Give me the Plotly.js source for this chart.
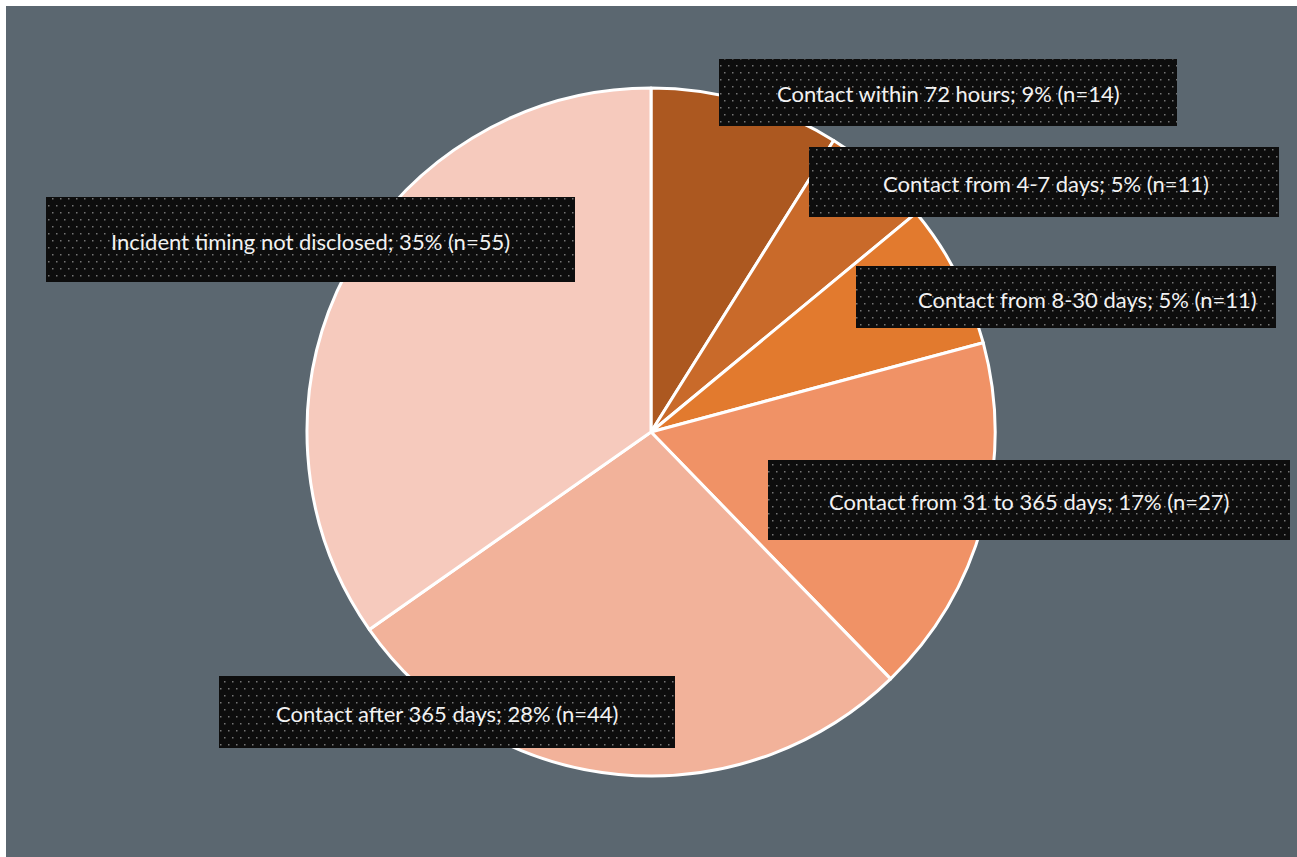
<!DOCTYPE html>
<html>
<head>
<meta charset="utf-8">
<script src="https://cdn.plot.ly/plotly-3.0.1.min.js"></script>
<style>
  html, body { margin: 0; padding: 0; background: #ffffff; overflow: hidden; }
  #chart { position: absolute; left: 6px; top: 6px; width: 1291px; height: 851px; }
</style>
</head>
<body>
<div id="chart"></div>
<script>
// Data
const categories = [
  "Contact within 72 hours",
  "Contact from 4-7 days",
  "Contact from 8-30 days",
  "Contact from 31 to 365 days",
  "Contact after 365 days",
  "Incident timing not disclosed"
];
const counts = [14, 11, 11, 27, 44, 55];
const pctLabels = ["9%", "5%", "5%", "17%", "28%", "35%"];
// slice shares (%)
const sliceShares = [8.9, 5.1, 6.8, 16.9, 27.5, 34.7];
const sliceColors = ["#AC5820", "#C96A2A", "#E27A2E", "#F09266", "#F2B29A", "#F6CABD"];

const W = 1291, H = 851, OFF = 6;
const px = x => (x - OFF) / W;
const py = y => 1 - (y - OFF) / H;

// label boxes (page pixels): [x0, y0, x1, y1, textCx, textCy]
const boxes = [
  [719, 59, 1177, 126, 948, 93],
  [809, 147, 1279, 217, 1046, 183],
  [856, 266, 1276, 328, 1087, 299],
  [768, 460, 1290, 540, 1029, 501],
  [219, 676, 675, 748, 447, 713],
  [46, 197, 575, 282, 310, 241]
];

const cx = 651, cy = 432, r = 344;

const trace = {
  type: "pie",
  labels: categories,
  values: sliceShares,
  customdata: counts,
  sort: false,
  direction: "clockwise",
  rotation: 0,
  textinfo: "none",
  hoverinfo: "label+percent",
  marker: { colors: sliceColors, line: { color: "#ffffff", width: 3 } },
  domain: { x: [px(cx - r), px(cx + r)], y: [py(cy + r), py(cy - r)] },
  showlegend: false
};

const shapes = boxes.map(b => ({
  type: "rect", xref: "paper", yref: "paper",
  x0: px(b[0]), x1: px(b[2]), y0: py(b[3]), y1: py(b[1]),
  fillcolor: "#0d0d0d", line: { width: 0 }, layer: "above"
}));

const annotations = boxes.map((b, i) => ({
  xref: "paper", yref: "paper",
  x: px(b[4]), y: py(b[5]),
  xanchor: "center", yanchor: "middle",
  showarrow: false,
  text: categories[i] + "; " + pctLabels[i] + " (n=" + counts[i] + ")",
  font: { family: "Lato, 'Open Sans', sans-serif", size: 22, color: "#f2f2f2" }
}));

const layout = {
  width: W, height: H,
  margin: { l: 0, r: 0, t: 0, b: 0 },
  paper_bgcolor: "#5B6770",
  plot_bgcolor: "#5B6770",
  shapes: shapes,
  annotations: annotations,
  showlegend: false
};

Plotly.newPlot("chart", [trace], layout, { displayModeBar: false, staticPlot: true }).then(gd => {
  const svg = gd.querySelector("svg.main-svg");
  let defs = svg.querySelector("defs");
  const ns = "http://www.w3.org/2000/svg";
  const pat = document.createElementNS(ns, "pattern");
  pat.setAttribute("id", "dotpat");
  pat.setAttribute("patternUnits", "userSpaceOnUse");
  pat.setAttribute("width", "8");
  pat.setAttribute("height", "14");
  const bg = document.createElementNS(ns, "rect");
  bg.setAttribute("width", "8"); bg.setAttribute("height", "14");
  bg.setAttribute("fill", "#0d0d0d");
  pat.appendChild(bg);
  [[2, 3], [6, 10]].forEach(([x, y]) => {
    const d = document.createElementNS(ns, "rect");
    d.setAttribute("x", x); d.setAttribute("y", y);
    d.setAttribute("width", "1.5"); d.setAttribute("height", "1.5");
    d.setAttribute("fill", "#747474");
    pat.appendChild(d);
  });
  defs.appendChild(pat);
  gd.querySelectorAll(".shapelayer path").forEach(p => {
    p.style.fill = "url(#dotpat)";
    p.style.fillOpacity = 1;
  });
});
</script>
</body>
</html>
